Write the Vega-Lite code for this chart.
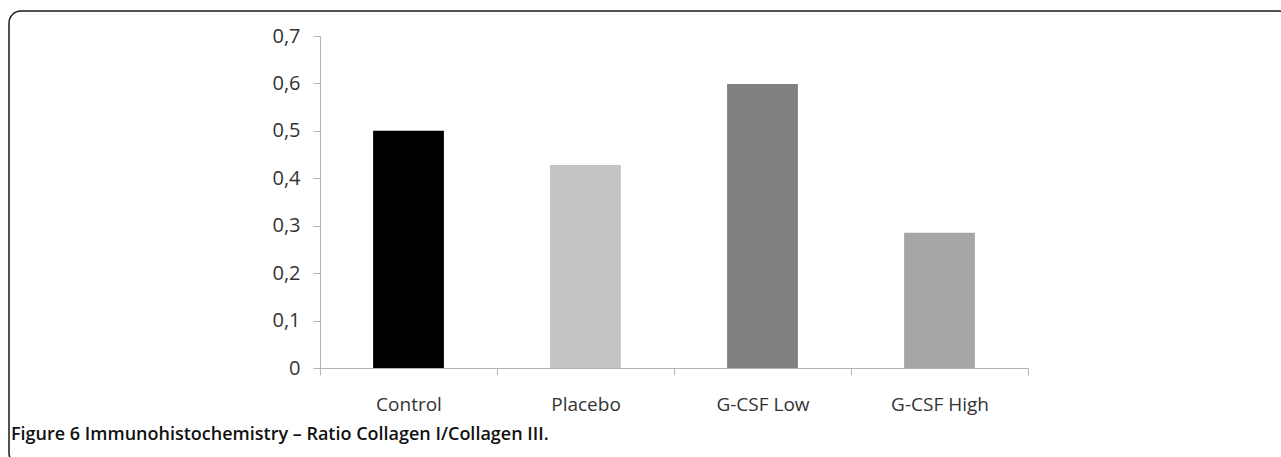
{
  "$schema": "https://vega.github.io/schema/vega-lite/v6.json",
  "autosize": "none",
  "padding": {"left": 9, "top": 11, "right": 0, "bottom": 0},
  "width": 1282,
  "height": 454,
  "background": "white",
  "view": {"stroke": "#1a1a1a", "strokeWidth": 1.5, "cornerRadius": 12, "fill": "white"},
  "title": {
    "text": "Figure 6 Immunohistochemistry – Ratio Collagen I/Collagen III.",
    "orient": "bottom",
    "anchor": "start",
    "frame": "group",
    "offset": -39,
    "dx": 2,
    "font": "Open Sans",
    "fontSize": 18,
    "fontWeight": 600,
    "color": "#111111"
  },
  "data": {
    "values": [
      {"group": "Control", "ratio": 0.5},
      {"group": "Placebo", "ratio": 0.428},
      {"group": "G-CSF Low", "ratio": 0.599},
      {"group": "G-CSF High", "ratio": 0.285}
    ]
  },
  "mark": {"type": "bar", "width": {"band": 0.4}},
  "encoding": {
    "x": {
      "field": "group",
      "type": "nominal",
      "sort": null,
      "scale": {"range": [311, 1019], "paddingInner": 0, "paddingOuter": 0},
      "axis": {
        "title": null,
        "orient": "bottom",
        "offset": -97,
        "tickBand": "extent",
        "labelAngle": 0,
        "tickSize": 7,
        "tickColor": "#b3b3b3",
        "domainColor": "#b3b3b3",
        "labelPadding": 20,
        "labelFont": "Liberation Sans Narrow, Open Sans",
        "labelFontSize": 19,
        "labelColor": "#333333"
      }
    },
    "y": {
      "field": "ratio",
      "type": "quantitative",
      "scale": {"domain": [0, 0.7], "range": [357, 25], "nice": false, "zero": true},
      "axis": {
        "title": null,
        "orient": "left",
        "offset": -311,
        "grid": false,
        "values": [0, 0.1, 0.2, 0.3, 0.4, 0.5, 0.6, 0.7],
        "labelExpr": "datum.value == 0 ? '0' : replace(format(datum.value, '.1f'), '.', ',')",
        "tickSize": 7,
        "tickColor": "#b3b3b3",
        "domainColor": "#b3b3b3",
        "labelPadding": 13,
        "labelFont": "Liberation Sans Narrow, Open Sans",
        "labelFontSize": 20,
        "labelColor": "#333333"
      }
    },
    "color": {
      "field": "group",
      "type": "nominal",
      "scale": {
        "domain": ["Control", "Placebo", "G-CSF Low", "G-CSF High"],
        "range": ["#000000", "#c4c4c4", "#808080", "#a6a6a6"]
      },
      "legend": null
    }
  }
}
